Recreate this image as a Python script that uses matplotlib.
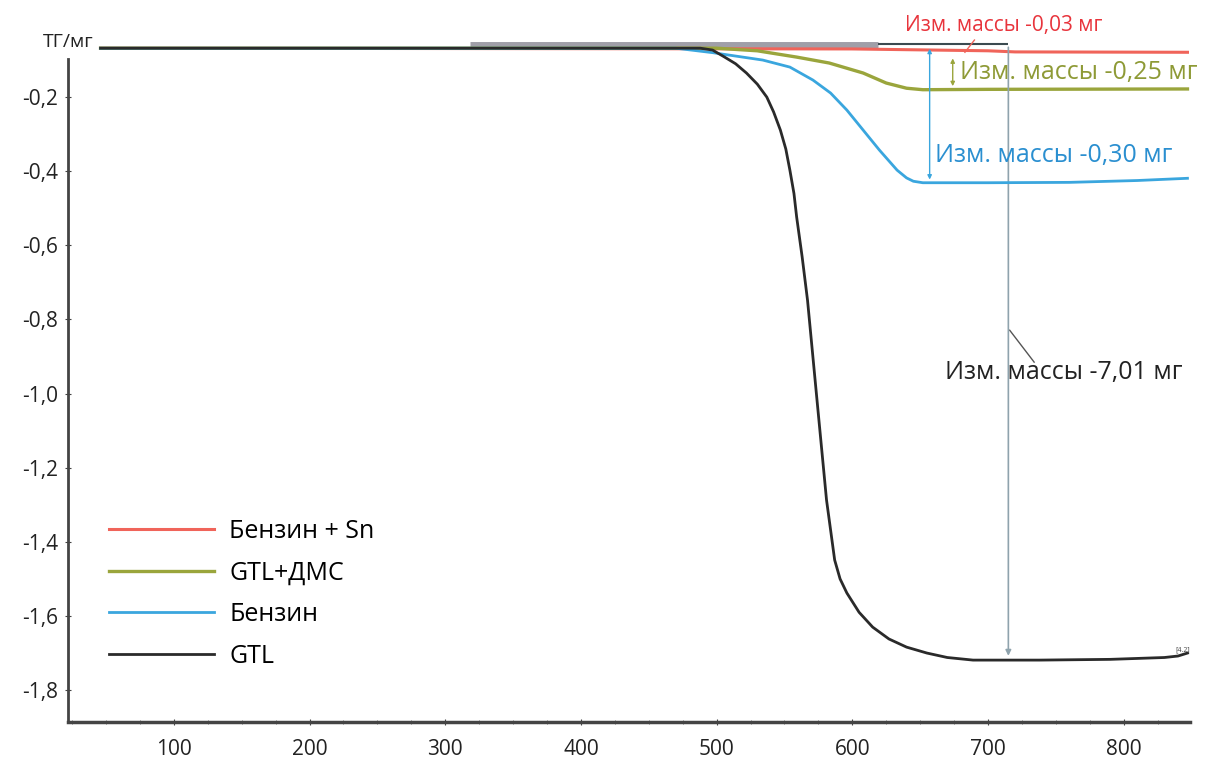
import numpy as np
import matplotlib
matplotlib.use("Agg")
import matplotlib.pyplot as plt
from matplotlib.ticker import FixedLocator, MultipleLocator

plt.rcParams['font.family'] = ['Open Sans', 'DejaVu Sans']

# кривые ТГ (температура, °C / изменение массы, мг)
t_gtl = [46, 488, 497, 505, 514, 522, 530, 537, 542, 547, 551, 554, 557, 559, 563, 567,
         574, 581, 587, 591, 596, 605, 615, 627, 640, 655, 670, 689, 738, 790, 830, 840, 847]
m_gtl = [-0.068, -0.068, -0.073, -0.090, -0.110, -0.135, -0.165, -0.200, -0.240, -0.289,
         -0.340, -0.397, -0.460, -0.524, -0.630, -0.748, -1.018, -1.287, -1.449, -1.500,
         -1.538, -1.590, -1.630, -1.662, -1.684, -1.700, -1.712, -1.719, -1.719, -1.717,
         -1.712, -1.708, -1.700]

t_benz = [46, 470, 497, 534, 554, 571, 584, 596, 608, 620, 633, 640, 645, 652, 700, 760, 810, 847]
m_benz = [-0.068, -0.068, -0.080, -0.100, -0.119, -0.154, -0.189, -0.235, -0.289, -0.343,
          -0.397, -0.418, -0.427, -0.431, -0.431, -0.430, -0.425, -0.419]

t_dms = [46, 500, 530, 559, 583, 608, 625, 640, 652, 700, 847]
m_dms = [-0.068, -0.068, -0.075, -0.092, -0.108, -0.135, -0.162, -0.176, -0.180, -0.179, -0.178]

t_sn = [46, 600, 700, 720, 847]
m_sn = [-0.068, -0.070, -0.075, -0.078, -0.079]

x_ticks = [100, 200, 300, 400, 500, 600, 700, 800]
y_ticks = [-0.2, -0.4, -0.6, -0.8, -1.0, -1.2, -1.4, -1.6, -1.8]
y_labels = ["-0,2", "-0,4", "-0,6", "-0,8", "-1,0", "-1,2", "-1,4", "-1,6", "-1,8"]

RED, OLV, BLU, BLK = "#f0645a", "#9aa53c", "#3aa6de", "#2a2a2a"
GRY = "#8fa3ad"

fig = plt.figure(figsize=(12.12, 7.62), dpi=100)
ax = fig.add_axes([0.0561, 0.0525, 0.9259, 0.893])

# полоса-артефакт над базовой линией
ax.hlines(-0.060, 318, 619, color="#a09fa8", lw=5, zorder=1)
ax.hlines(-0.058, 619, 715, color="#3b4a50", lw=1.5, zorder=1)

ax.plot(t_sn, m_sn, color=RED, lw=2.2, label="Бензин + Sn", zorder=2)
ax.plot(t_dms, m_dms, color=OLV, lw=2.4, label="GTL+ДМС", zorder=3)
ax.plot(t_benz, m_benz, color=BLU, lw=2.0, label="Бензин", zorder=4)
ax.plot(t_gtl, m_gtl, color=BLK, lw=2.0, label="GTL", zorder=5)

# размерные линии изменения массы
ax.annotate("", xy=(657, -0.430), xytext=(657, -0.062),
            arrowprops=dict(arrowstyle="<|-|>", color=BLU, lw=1.0, mutation_scale=6))
ax.annotate("", xy=(674, -0.178), xytext=(674, -0.088),
            arrowprops=dict(arrowstyle="<|-|>", color=OLV, lw=1.0, mutation_scale=6))
ax.annotate("", xy=(715, -1.715), xytext=(715, -0.058),
            arrowprops=dict(arrowstyle="-|>", color=GRY, lw=1.2, mutation_scale=8))
ax.plot([716, 734], [-0.829, -0.915], color="#555555", lw=1.0)
ax.plot([690, 683], [-0.046, -0.079], color=RED, lw=1.0, clip_on=False)

ax.text(639, -0.006, "Изм. массы -0,03 мг", color="#e8343c", fontsize=15, va="center")
ax.text(679, -0.133, "Изм. массы -0,25 мг", color="#8e9a36", fontsize=18, va="center")
ax.text(661, -0.357, "Изм. массы -0,30 мг", color="#2a8fd0", fontsize=18, va="center")
ax.text(668, -0.942, "Изм. массы -7,01 мг", color="#222222", fontsize=18, va="center")
ax.text(838, -1.690, "[4.2]", color="#444444", fontsize=5, va="center")

ax.set_xlim(22, 849)
ax.set_ylim(-1.886, -0.05)
ax.xaxis.set_major_locator(FixedLocator(x_ticks))
ax.xaxis.set_minor_locator(MultipleLocator(25))
ax.set_xticklabels([str(v) for v in x_ticks])
ax.yaxis.set_major_locator(FixedLocator(y_ticks))
ax.set_yticklabels(y_labels)
ax.tick_params(axis="x", which="major", labelsize=15, length=4, direction="inout",
               pad=10, colors="#444444", labelcolor="#222222")
ax.tick_params(axis="x", which="minor", length=3, direction="inout", colors="#666666")
ax.tick_params(axis="y", labelsize=15, length=4, direction="inout", pad=5,
               colors="#444444", labelcolor="#222222")

for s in ["top", "right"]:
    ax.spines[s].set_visible(False)
ax.spines["left"].set_color("#444444")
ax.spines["left"].set_linewidth(2)
ax.spines["left"].set_bounds(-1.886, -0.097)
ax.spines["bottom"].set_color("#444444")
ax.spines["bottom"].set_linewidth(2.5)

ax.text(0.0, 1.0, "ТГ/мг", transform=ax.transAxes, fontsize=14,
        color="#222222", ha="center", va="center")

ax.legend(loc="upper left", bbox_to_anchor=(0.028, 0.313), frameon=False, fontsize=18,
          handlelength=4.2, handletextpad=0.6, labelspacing=0.66, borderaxespad=0)

fig.savefig("out.png", dpi=100, facecolor="white")
